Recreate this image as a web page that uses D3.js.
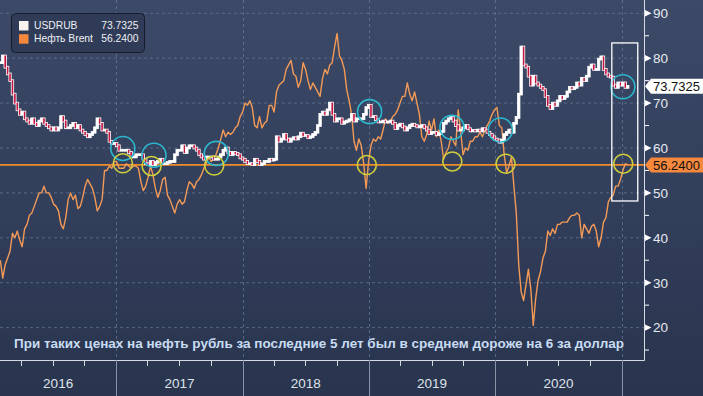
<!DOCTYPE html>
<html><head><meta charset="utf-8">
<script src="https://cdn.jsdelivr.net/npm/d3@7"></script>
<style>html,body{margin:0;padding:0;background:#2c3752;overflow:hidden}</style>
</head><body><svg id="c" width="703" height="396"></svg>
<script>
// ---------- DATA (weekly closes, first week starts 2016-02-01) ----------
const firstWeek = "2016-02-01";
const usd2016 = [79.0,80.5,78.0,76.5,75.0,72.0,70.0,68.5,67.5,68.0,66.5,66.0,65.5,66.5,65.5,65.0,66.0,66.5,65.5,65.0,64.5,64.0,64.5,64.0,64.5,67.0,66.0,64.5,64.5,65.0,65.5,64.5,65.0,64.0,63.5,63.0,62.5,63.0,63.5,64.5,66.5,65.5,64.0,64.0,63.5,61.5,61.0,61.0];
const usd2017 = [60.5,59.5,59.5,59.5,59.5,59.0,58.0,58.0,58.5,58.5,58.5,57.5,56.5,56.3,57.0,56.3,56.8,57.0,57.5,56.5,56.5,56.8,57.0,57.0,58.5,59.5,59.5,60.5,59.0,60.0,60.5,60.5,60.0,59.5,58.5,58.0,57.5,58.0,58.0,58.0,57.5,57.5,58.0,58.5,59.5,60.0,59.0,58.5,59.0,58.8,58.5,57.8];
const usd2018 = [57.5,57.0,56.5,56.5,56.3,57.5,57.0,56.3,56.5,57.0,57.0,57.5,57.3,57.5,62.5,61.5,62.0,63.0,62.0,61.5,62.0,62.3,62.0,62.5,63.3,62.8,62.8,62.3,62.5,63.0,63.5,65.0,67.5,68.0,67.5,68.5,70.0,67.5,66.0,66.5,66.5,65.5,65.8,66.0,66.3,67.5,66.0,66.5,66.5,66.5,67.5,69.0,69.5];
const usd2019 = [67.0,67.0,66.3,65.8,65.8,66.0,65.8,65.8,66.0,65.5,64.3,65.0,65.3,64.7,64.0,64.5,65.0,65.3,65.0,64.7,64.8,65.0,64.5,64.0,63.2,63.5,63.5,63.0,63.2,63.7,65.5,66.0,66.5,66.8,66.0,65.0,64.0,64.0,64.5,65.0,64.3,63.8,63.9,63.8,64.0,63.8,64.3,64.0,63.5,63.0,62.5,62.0];
const usd2020 = [61.8,61.3,61.8,63.0,63.5,64.0,63.5,65.5,66.8,72.0,82.5,78.5,78.0,76.0,74.0,76.0,74.5,74.0,73.5,73.0,71.5,69.5,68.8,70.0,69.5,70.5,71.5,71.0,71.5,72.5,73.5,73.2,73.5,74.5,74.0,75.5,75.0,76.0,78.0,78.5,77.5,77.5,79.8,80.3,77.5,76.5,76.0,75.8,74.0,73.5,74.5,74.0];
const usd2021 = [74.5,73.5,73.7325];

const brent2016 = [35.0,31.0,34.0,35.5,37.0,41.0,40.0,41.5,39.5,38.0,42.0,43.0,45.0,45.5,47.0,48.5,50.0,50.0,51.5,50.0,50.0,49.0,47.5,47.0,46.0,43.0,42.0,44.5,48.5,50.0,48.5,49.5,46.5,47.0,49.0,51.5,53.0,52.0,51.0,49.0,46.0,47.0,48.5,55.0,55.0,56.0,55.5,57.0];
const brent2017 = [57.0,55.5,55.5,55.5,56.5,56.0,55.5,56.0,56.0,55.5,52.5,50.5,51.5,53.5,56.0,54.0,51.0,49.0,50.5,53.0,53.5,49.5,48.5,47.0,45.5,47.5,48.5,47.5,48.0,50.5,52.5,52.0,51.0,52.5,53.0,54.0,55.5,56.5,58.0,57.0,57.5,58.5,60.0,62.0,64.0,62.5,63.5,63.0,63.5,64.5,65.0,67.0];
const brent2018 = [68.0,70.0,69.5,70.5,69.0,65.0,64.5,67.0,64.5,65.5,66.0,69.5,69.5,68.0,72.5,74.0,74.5,75.0,77.5,78.5,79.5,76.5,76.0,73.5,75.0,79.0,77.5,75.0,73.0,74.5,73.5,72.5,71.5,75.5,77.5,76.5,78.5,79.0,82.5,85.5,80.5,79.5,77.5,73.0,70.5,67.5,61.5,59.5,62.0,60.5,56.5,51.0,57.0];
const brent2019 = [60.5,62.0,61.5,62.5,62.0,64.0,66.5,65.5,66.0,67.0,67.5,68.5,70.0,71.5,71.5,74.5,72.0,70.5,72.5,70.0,67.5,62.5,61.5,63.0,66.0,64.0,66.5,62.5,64.0,61.5,57.5,59.0,60.0,62.5,61.5,60.5,68.5,64.0,58.5,60.0,59.5,61.5,61.5,62.5,62.5,63.5,62.5,64.0,65.0,66.0,67.5,68.5];
const brent2020 = [69.0,65.0,64.5,58.5,54.5,56.0,58.0,51.5,45.5,34.0,28.0,26.0,29.5,33.0,28.5,20.5,26.5,30.5,32.5,35.5,37.0,41.5,40.5,42.0,41.0,43.0,43.0,43.5,43.5,43.5,44.5,45.0,45.0,45.5,45.0,40.0,43.0,42.0,41.0,42.5,43.0,41.5,38.0,40.0,43.5,44.5,48.0,49.0,49.5,51.5,51.5,53.0];
const brent2021 = [55.0,56.5,56.24];

const seriesNames = ["USDRUB", "Нефть Brent"];
const lastValues = [73.7325, 56.24];
const lastLabels = ["73.7325", "56.2400"];
const yTicks = [20,30,40,50,60,70,80,90];
const yMinorTicks = [15,25,35,45,55,65,75,85];
const yearLabels = ["2016","2017","2018","2019","2020"];
const cyanCircles = [["2017-01-20",59.9],["2017-04-20",58.4],["2017-10-17",58.8],["2019-01-03",68.1],["2019-08-29",64.6],["2020-01-16",64.0],["2021-01-04",73.65]];
const yellowCircles = [["2017-01-20",56.6],["2017-04-13",56.0],["2017-10-11",56.1],["2018-12-26",56.2],["2019-08-30",57.0],["2020-01-31",56.5],["2021-01-05",56.5]];
const highlightBox = {from:"2020-12-03", to:"2021-02-16", top:83.4, bottom:48.2};
const caption = "При таких ценах на нефть рубль за последние 5 лет был в среднем дороже на 6 за доллар";

// ---------- CHART ----------
const parse = d3.timeParse("%Y-%m-%d");
const usd = [].concat(usd2016, usd2017, usd2018, usd2019, usd2020, usd2021);
const brent = [].concat(brent2016, brent2017, brent2018, brent2019, brent2020, brent2021);
const start = parse(firstWeek);
const dates = usd.map((_, i) => d3.timeDay.offset(start, 7 * i));

const W = 703, H = 396, plotR = 644, plotB = 360;
const x = d3.scaleTime().domain([parse("2016-01-31"), parse("2021-03-06")]).range([0, plotR]);
const y = d3.scaleLinear().domain([20, 90]).range([327.6, 13.3]);

const svg = d3.select("#c");
const defs = svg.append("defs");
const grad = defs.append("linearGradient").attr("id", "bg").attr("x1", 0).attr("y1", 0).attr("x2", 0).attr("y2", 1);
grad.append("stop").attr("offset", "0%").attr("stop-color", "#3c4a68");
grad.append("stop").attr("offset", "100%").attr("stop-color", "#29344e");
defs.append("clipPath").attr("id", "clip").append("rect").attr("x", 0).attr("y", 0).attr("width", plotR).attr("height", plotB);

svg.append("rect").attr("width", W).attr("height", H).attr("fill", "url(#bg)");

const gridColor = "#647896";
svg.append("g").selectAll("line").data(yTicks).join("line")
  .attr("x1", 0).attr("x2", plotR).attr("y1", d => y(d)).attr("y2", d => y(d))
  .attr("stroke", gridColor).attr("stroke-width", 1).attr("stroke-dasharray", "3,3").attr("opacity", 0.75);
const yearStarts = d3.timeYear.range(parse("2017-01-01"), parse("2021-01-02"));
svg.append("g").selectAll("line").data(yearStarts).join("line")
  .attr("x1", d => Math.round(x(d)) + 0.5).attr("x2", d => Math.round(x(d)) + 0.5).attr("y1", 0).attr("y2", plotB)
  .attr("stroke", gridColor).attr("stroke-width", 1).attr("stroke-dasharray", "3,3").attr("opacity", 0.75);

const plot = svg.append("g").attr("clip-path", "url(#clip)");

plot.append("line").attr("x1", 0).attr("x2", plotR)
  .attr("y1", y(lastValues[1])).attr("y2", y(lastValues[1]))
  .attr("stroke", "#f08c28").attr("stroke-width", 1.6);

plot.append("path").datum(brent)
  .attr("d", d3.line().x((d, i) => x(dates[i])).y(d => y(d)))
  .attr("fill", "none").attr("stroke", "#f39a57").attr("stroke-width", 1.4).attr("stroke-linejoin", "round");

const step = x(dates[1]) - x(dates[0]);
const candles = usd.map((c, i) => ({ d: dates[i], o: i ? usd[i - 1] : c, c }));
plot.append("g").selectAll("rect").data(candles).join("rect")
  .attr("x", d => x(d.d) - step * 0.5)
  .attr("width", step)
  .attr("y", d => y(Math.max(d.o, d.c)) - 0.9)
  .attr("height", d => Math.abs(y(d.o) - y(d.c)) + 1.8)
  .attr("fill", d => d.c < d.o ? "#c5123f" : "#ffffff")
  .attr("stroke", "#ffffff").attr("stroke-width", 0.8);

plot.append("g").selectAll("circle").data(cyanCircles).join("circle")
  .attr("cx", d => x(parse(d[0]))).attr("cy", d => y(d[1])).attr("r", 12)
  .attr("fill", "none").attr("stroke", "#2bb8cc").attr("stroke-width", 1.6);
plot.append("g").selectAll("circle").data(yellowCircles).join("circle")
  .attr("cx", d => x(parse(d[0]))).attr("cy", d => y(d[1])).attr("r", 9.5)
  .attr("fill", "none").attr("stroke", "#cfcf3c").attr("stroke-width", 1.6);

svg.append("rect")
  .attr("x", x(parse(highlightBox.from))).attr("y", y(highlightBox.top))
  .attr("width", x(parse(highlightBox.to)) - x(parse(highlightBox.from)))
  .attr("height", y(highlightBox.bottom) - y(highlightBox.top))
  .attr("fill", "none").attr("stroke", "#ffffff").attr("stroke-width", 1.3);

svg.append("line").attr("x1", plotR + 0.5).attr("x2", plotR + 0.5).attr("y1", 0).attr("y2", plotB + 0.5)
  .attr("stroke", "#d6dae2").attr("stroke-width", 1);
svg.append("line").attr("x1", 0).attr("x2", plotR + 0.5).attr("y1", plotB + 0.5).attr("y2", plotB + 0.5)
  .attr("stroke", "#d6dae2").attr("stroke-width", 1);

const axis = svg.append("g");
axis.selectAll("path.tri").data(yTicks).join("path").attr("class", "tri")
  .attr("d", d => `M${plotR + 1},${y(d) - 3.2}L${plotR + 7.5},${y(d)}L${plotR + 1},${y(d) + 3.2}Z`)
  .attr("fill", "#ffffff");
axis.selectAll("line.minor").data(yMinorTicks).join("line").attr("class", "minor")
  .attr("x1", plotR + 1).attr("x2", plotR + 5).attr("y1", d => y(d)).attr("y2", d => y(d))
  .attr("stroke", "#ffffff").attr("stroke-width", 1);
axis.selectAll("text").data(yTicks).join("text")
  .attr("x", plotR + 9).attr("y", d => y(d)).attr("dy", "0.36em")
  .attr("font-family", "Liberation Sans, Arial, sans-serif").attr("font-size", 13.5)
  .attr("fill", "#e6e9ef").text(d => d);

const labelFill = ["#ffffff", "#f5883d"];
lastValues.forEach((v, k) => {
  const cy = y(v);
  svg.append("path")
    .attr("d", `M${plotR + 1},${cy}L${plotR + 7},${cy - 7.5}L${W},${cy - 7.5}L${W},${cy + 7.5}L${plotR + 7},${cy + 7.5}Z`)
    .attr("fill", labelFill[k]);
  svg.append("text").attr("x", plotR + 9).attr("y", cy).attr("dy", "0.36em")
    .attr("font-family", "Liberation Sans, Arial, sans-serif").attr("font-size", 13)
    .attr("fill", "#111").text(lastLabels[k]);
});

const quarters = d3.timeMonth.every(3).range(x.domain()[0], x.domain()[1]).filter(d => d.getMonth() !== 0);
svg.append("g").selectAll("line").data(quarters).join("line")
  .attr("x1", d => Math.round(x(d)) + 0.5).attr("x2", d => Math.round(x(d)) + 0.5)
  .attr("y1", plotB).attr("y2", plotB + 6).attr("stroke", "#d6dae2");
svg.append("g").selectAll("line").data(yearStarts).join("line")
  .attr("x1", d => Math.round(x(d)) + 0.5).attr("x2", d => Math.round(x(d)) + 0.5)
  .attr("y1", plotB).attr("y2", H).attr("stroke", "#8a93a6").attr("stroke-width", 1);
svg.append("g").selectAll("text").data(yearLabels).join("text")
  .attr("x", d => {
    const a = Math.max(0, x(parse(d + "-01-01")));
    const b = x(parse((+d + 1) + "-01-01"));
    return (a + b) / 2;
  })
  .attr("y", 388).attr("text-anchor", "middle")
  .attr("font-family", "Liberation Sans Narrow, Arial Narrow, sans-serif").attr("font-size", 13.5)
  .attr("fill", "#dfe3ea").text(d => d);

svg.append("text").attr("x", 14).attr("y", 348)
  .attr("font-family", "Liberation Sans, Arial, sans-serif").attr("font-size", 13).attr("font-weight", "bold")
  .attr("fill", "#c8dcf3").attr("textLength", 610).attr("lengthAdjust", "spacingAndGlyphs")
  .text(caption);

const lg = svg.append("g");
lg.append("rect").attr("x", 11.5).attr("y", 13.5).attr("width", 133).attr("height", 39).attr("rx", 4)
  .attr("fill", "#2f3b57").attr("stroke", "#151b28").attr("stroke-width", 1);
const swatch = ["#fbf3ee", "#f5883d"];
seriesNames.forEach((n, k) => {
  const cy = 25.5 + k * 13.2;
  lg.append("rect").attr("x", 19).attr("y", cy - 4.5).attr("width", 9.5).attr("height", 9.5).attr("fill", swatch[k]);
  lg.append("text").attr("x", 34).attr("y", cy).attr("dy", "0.36em")
    .attr("font-family", "Liberation Sans, Arial, sans-serif").attr("font-size", 10.3).attr("fill", "#eef0f4").text(n);
  lg.append("text").attr("x", 138.5).attr("y", cy).attr("dy", "0.36em").attr("text-anchor", "end")
    .attr("font-family", "Liberation Sans, Arial, sans-serif").attr("font-size", 10.3).attr("fill", "#eef0f4").text(lastLabels[k]);
});
</script>
</body></html>
